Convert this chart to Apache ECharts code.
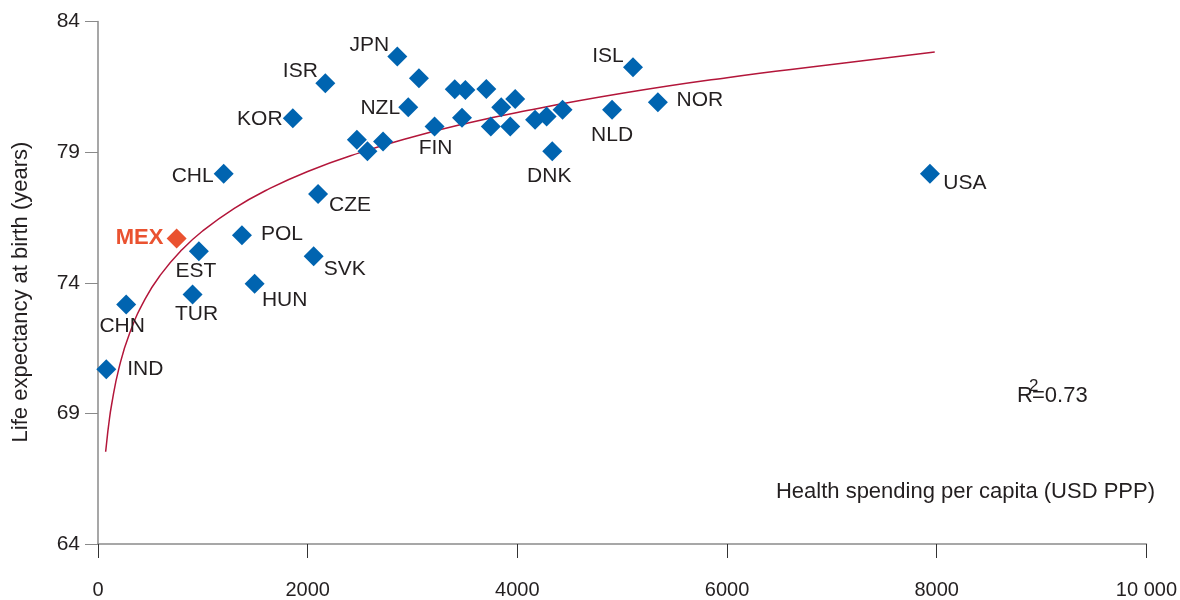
<!DOCTYPE html>
<html>
<head>
<meta charset="utf-8">
<script src="https://cdn.jsdelivr.net/npm/echarts@6/dist/echarts.min.js"></script>
<style>
html,body{margin:0;padding:0;background:#fff;}
#chart{width:1180px;height:600px;}
</style>
</head>
<body>
<div id="chart"></div>
<script>
// ---- data ----
const countries = ['IND','CHN','MEX','EST','TUR','CHL','POL','HUN','SVK','CZE','KOR','ISR','JPN','','NZL','','','','FIN','','','','','','','','','','','','DNK','NLD','ISL','NOR','USA'];
const spending  = [79,269,750,962,902,1199,1373,1494,2057,2099,1858,2168,2855,3061,2959,2469,2570,2719,3210,3403,3504,3704,3846,3979,3472,3747,3932,4169,4279,4431,4333,4903,5103,5340,7935];
const lifeExp   = [70.69,73.17,75.69,75.21,73.55,78.17,75.82,73.96,75.01,77.40,80.30,81.64,82.66,81.83,80.72,79.47,79.03,79.41,79.98,81.41,81.38,81.42,80.72,81.03,80.32,79.98,79.98,80.24,80.36,80.62,79.03,80.62,82.25,80.91,78.17];
const highlighted = 'MEX';

// logarithmic trend line
const trendX = [73,85,100,130,200,300,450,600,800,1000,1300,1600,2000,2500,3000,3500,4000,5000,6000,7000,7981];
const trendY = [67.53,67.98,68.50,69.34,70.73,72.05,73.38,74.32,75.26,75.99,76.85,77.53,78.26,78.98,79.58,80.09,80.52,81.25,81.85,82.35,82.83];
const rSquared = '0.73';

const xTickLabels = {0:'0',2000:'2000',4000:'4000',6000:'6000',8000:'8000',10000:'10 000'};
const yTickLabels = ['64','69','74','79','84'];

// ---- label placement (style) ----
const labelOffsets = {
  IND:[39,0], CHN:[-4,22], MEX:[-37,-1], EST:[-3,20], TUR:[4,20], CHL:[-31,2],
  POL:[40,-1], HUN:[30,16], SVK:[31,13], CZE:[32,11], KOR:[-33,1], ISR:[-25,-12],
  JPN:[-28,-11], NZL:[-28,1], FIN:[1,22], DNK:[-3,25], NLD:[0,25], ISL:[-25,-11],
  NOR:[42,-2], USA:[35,9]
};

const FONT = '"Liberation Sans", Arial, Helvetica, sans-serif';
const TXT = '#231f20';
const BLUE = '#0064b0';
const RED = '#ea5230';

const scatterData = countries.map((c, i) => {
  const item = { name: c, value: [spending[i], lifeExp[i]] };
  if (c) {
    const off = labelOffsets[c] || [0,0];
    item.label = { show: true, position: 'inside', offset: off, align: 'center', verticalAlign: 'middle',
                   fontSize: 21, color: TXT, fontFamily: FONT };
  }
  if (c === highlighted) {
    item.itemStyle = { color: RED, opacity: 1 };
    item.label.color = RED;
    item.label.fontWeight = 'bold';
    item.label.fontSize = 22;
  }
  return item;
});

const chart = echarts.init(document.getElementById('chart'), null, { renderer: 'canvas' });
chart.setOption({
  backgroundColor: '#fff',
  animation: false,
  grid: { left: 98, right: 32, top: 21.5, bottom: 55, containLabel: false },
  xAxis: {
    type: 'value', min: 0, max: 10000, interval: 2000,
    axisLine: { show: true, lineStyle: { color: '#8a8a8a', width: 1.5 } },
    axisTick: { show: true, length: 14, lineStyle: { color: '#333', width: 1 } },
    axisLabel: { margin: 36, fontSize: 20, color: TXT, fontFamily: FONT, formatter: v => xTickLabels[v] },
    splitLine: { show: false }
  },
  yAxis: {
    type: 'value', min: 64, max: 84, interval: 5,
    axisLine: { show: true, lineStyle: { color: '#8a8a8a', width: 1.5 } },
    axisTick: { show: true, length: 13, lineStyle: { color: '#8a8a8a', width: 1 } },
    axisLabel: { margin: 18, fontSize: 21, color: TXT, fontFamily: FONT, formatter: v => yTickLabels[(v - 64) / 5] },
    splitLine: { show: false }
  },
  series: [
    {
      type: 'line',
      data: trendX.map((x, i) => [x, trendY[i]]),
      smooth: true,
      showSymbol: false,
      symbol: 'none',
      lineStyle: { color: '#b3163a', width: 1.5 },
      z: 1,
      silent: true
    },
    {
      type: 'scatter',
      symbol: 'diamond',
      symbolSize: 20,
      data: scatterData,
      itemStyle: { color: BLUE, opacity: 1 },
      emphasis: { disabled: true },
      label: { show: false, fontSize: 21, color: TXT, fontFamily: FONT, formatter: p => p.name },
      z: 3
    }
  ],
  graphic: [
    { type: 'text', rotation: Math.PI / 2, x: 21, y: 292,
      style: { text: 'Life expectancy at birth (years)', font: '22px ' + FONT, fill: TXT, textAlign: 'center', textVerticalAlign: 'middle' } },
    { type: 'text', x: 1155, y: 492,
      style: { text: 'Health spending per capita (USD PPP)', font: '22px ' + FONT, fill: TXT, textAlign: 'right', textVerticalAlign: 'middle' } },
    { type: 'text', x: 1017, y: 396,
      style: { text: 'R', font: '22px ' + FONT, fill: TXT, textAlign: 'left', textVerticalAlign: 'middle' } },
    { type: 'text', x: 1032, y: 396,
      style: { text: '=' + rSquared, font: '22px ' + FONT, fill: TXT, textAlign: 'left', textVerticalAlign: 'middle' } },
    { type: 'text', x: 1029, y: 386,
      style: { text: '2', font: '17px ' + FONT, fill: TXT, textAlign: 'left', textVerticalAlign: 'middle' } }
  ]
});
</script>
</body>
</html>
